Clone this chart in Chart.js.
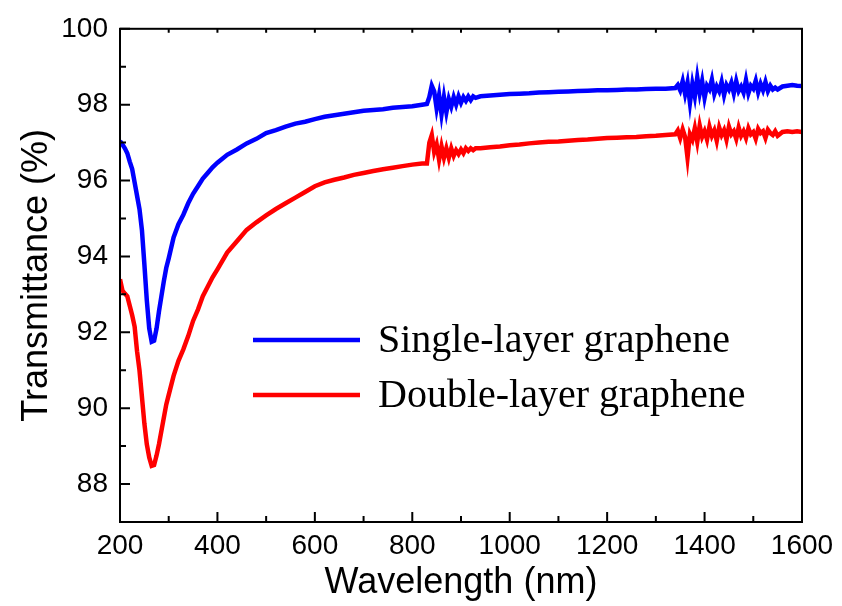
<!DOCTYPE html>
<html>
<head>
<meta charset="utf-8">
<script src="https://cdn.jsdelivr.net/npm/chart.js@4.4.0/dist/chart.umd.min.js"></script>
<style>
  html, body { margin: 0; padding: 0; background: #fff; }
</style>
</head>
<body>
<canvas id="transChart" width="842" height="606"></canvas>
<script>
// wavelength grid (nm)
var wavelength = [
  200, 205, 210, 215, 220, 225, 230, 235, 240, 245,
  250, 255, 260, 265, 270, 275, 280, 285, 290, 295,
  300, 310, 320, 330, 340, 350, 360, 370, 380, 390,
  400, 420, 440, 460, 480, 500, 520, 540, 560, 580,
  600, 620, 640, 660, 680, 700, 720, 740, 760, 780,
  800, 820, 830, 835, 840, 845, 850, 855, 860, 865,
  870, 875, 880, 885, 890, 895, 900, 905, 910, 915,
  920, 925, 930, 940, 960, 980, 1000, 1020, 1040, 1060,
  1080, 1100, 1120, 1140, 1160, 1180, 1200, 1220, 1240, 1260,
  1280, 1300, 1320, 1340, 1345, 1350, 1355, 1360, 1365, 1370,
  1375, 1380, 1385, 1390, 1395, 1400, 1405, 1410, 1415, 1420,
  1425, 1430, 1435, 1440, 1445, 1450, 1455, 1460, 1465, 1470,
  1475, 1480, 1485, 1490, 1495, 1500, 1505, 1510, 1515, 1520,
  1525, 1530, 1535, 1540, 1545, 1550, 1560, 1570, 1580, 1590,
  1600
];

// single-layer graphene transmittance (%)
var singleLayer = [
  97.04, 96.95, 96.85, 96.72, 96.50, 96.30, 95.95, 95.60, 95.25, 94.70,
  93.80, 92.85, 92.10, 91.75, 91.78, 92.10, 92.55, 92.95, 93.35, 93.70,
  93.95, 94.50, 94.85, 95.10, 95.40, 95.65, 95.85, 96.05, 96.20, 96.35,
  96.47, 96.68, 96.82, 96.98, 97.10, 97.25, 97.33, 97.42, 97.50, 97.55,
  97.62, 97.68, 97.72, 97.76, 97.80, 97.84, 97.86, 97.88, 97.92, 97.94,
  97.96, 98.00, 98.02, 98.20, 98.50, 98.35, 97.90, 98.25, 97.75, 98.20,
  97.80, 98.15, 97.95, 98.20, 98.00, 98.22, 98.05, 98.20, 98.10, 98.22,
  98.12, 98.22, 98.18, 98.22, 98.24, 98.26, 98.28, 98.29, 98.30, 98.32,
  98.33, 98.34, 98.35, 98.36, 98.37, 98.38, 98.38, 98.39, 98.40, 98.40,
  98.41, 98.42, 98.42, 98.44, 98.52, 98.38, 98.62, 98.28, 98.58, 98.05,
  98.55, 98.22, 98.72, 98.30, 98.62, 98.18, 98.50, 98.40, 98.66, 98.28,
  98.48, 98.35, 98.60, 98.25, 98.52, 98.40, 98.58, 98.30, 98.62, 98.36,
  98.48, 98.32, 98.65, 98.30, 98.50, 98.42, 98.63, 98.33, 98.55, 98.38,
  98.60, 98.36, 98.50, 98.40, 98.45, 98.40, 98.48, 98.50, 98.52, 98.50,
  98.49
];

// double-layer graphene transmittance (%)
var doubleLayer = [
  93.40, 93.10, 93.02, 92.95, 92.70, 92.45, 92.15, 91.50, 91.00, 90.30,
  89.60, 89.05, 88.70, 88.48, 88.50, 88.75, 89.05, 89.40, 89.75, 90.10,
  90.35, 90.85, 91.25, 91.55, 91.90, 92.30, 92.60, 92.95, 93.20, 93.45,
  93.66, 94.10, 94.40, 94.70, 94.90, 95.08, 95.25, 95.40, 95.55, 95.70,
  95.85, 95.95, 96.02, 96.08, 96.15, 96.20, 96.25, 96.30, 96.34, 96.38,
  96.42, 96.45, 96.45, 97.00, 97.20, 96.75, 96.95, 96.55, 96.90, 96.60,
  96.85, 96.60, 96.85, 96.65, 96.80, 96.70, 96.82, 96.72, 96.85, 96.78,
  96.85, 96.80, 96.85, 96.85, 96.88, 96.90, 96.93, 96.95, 96.98, 97.00,
  97.02, 97.03, 97.05, 97.07, 97.08, 97.10, 97.12, 97.13, 97.14, 97.15,
  97.17, 97.18, 97.20, 97.22, 97.32, 97.12, 97.35, 97.15, 96.60, 97.22,
  97.08, 97.38, 97.02, 97.45, 97.15, 97.30, 97.08, 97.42, 97.18, 97.32,
  97.05, 97.40, 97.20, 97.33, 97.08, 97.42, 97.22, 97.30, 97.10, 97.40,
  97.18, 97.30, 97.12, 97.38, 97.22, 97.28, 97.10, 97.36, 97.25, 97.30,
  97.12, 97.34, 97.25, 97.20, 97.30, 97.18, 97.28, 97.30, 97.28, 97.30,
  97.28
];

var xTicks = [200, 400, 600, 800, 1000, 1200, 1400, 1600];
var xMinor = [300, 500, 700, 900, 1100, 1300, 1500];
var yTicks = [88, 90, 92, 94, 96, 98, 100];
var yMinor = [87, 89, 91, 93, 95, 97, 99];

function toPoints(ys) {
  return wavelength.map(function (w, i) { return {x: w, y: ys[i]}; });
}

// frame with inward ticks (left + bottom major/minor, short ones on top)
var framePlugin = {
  id: 'frame',
  afterDraw: function (chart) {
    var ctx = chart.ctx, a = chart.chartArea;
    var xs = chart.scales.x, ys = chart.scales.y;
    ctx.save();
    ctx.strokeStyle = '#000';
    ctx.lineWidth = 2;
    ctx.strokeRect(a.left, a.top, a.right - a.left, a.bottom - a.top);
    ctx.beginPath();
    xTicks.forEach(function (v) {
      var px = xs.getPixelForValue(v);
      ctx.moveTo(px, a.bottom); ctx.lineTo(px, a.bottom - 10);
      ctx.moveTo(px, a.top); ctx.lineTo(px, a.top + 4);
    });
    xMinor.forEach(function (v) {
      var px = xs.getPixelForValue(v);
      ctx.moveTo(px, a.bottom); ctx.lineTo(px, a.bottom - 6);
      ctx.moveTo(px, a.top); ctx.lineTo(px, a.top + 4);
    });
    yTicks.forEach(function (v) {
      var py = ys.getPixelForValue(v);
      ctx.moveTo(a.left, py); ctx.lineTo(a.left + 10, py);
    });
    yMinor.forEach(function (v) {
      var py = ys.getPixelForValue(v);
      ctx.moveTo(a.left, py); ctx.lineTo(a.left + 6, py);
    });
    ctx.stroke();

    // legend inside the plot
    ctx.font = '40px "Liberation Serif", "Times New Roman", serif';
    ctx.textBaseline = 'alphabetic';
    ctx.fillStyle = '#000';
    chart.data.datasets.forEach(function (ds, i) {
      var ly = 340 + i * 55;
      ctx.strokeStyle = ds.borderColor;
      ctx.lineWidth = 4.5;
      ctx.beginPath();
      ctx.moveTo(253, ly); ctx.lineTo(360, ly);
      ctx.stroke();
      ctx.fillText(ds.label, 378, ly + 12);
    });
    ctx.restore();
  }
};

var tickFont = {family: '"Liberation Sans", Arial, sans-serif', size: 28};
var titleFont = {family: '"Liberation Sans", Arial, sans-serif', size: 36};

new Chart(document.getElementById('transChart').getContext('2d'), {
  type: 'line',
  data: {
    datasets: [
      {label: 'Single-layer graphene', data: toPoints(singleLayer),
       borderColor: '#0000ff', borderWidth: 4.5, pointRadius: 0, tension: 0},
      {label: 'Double-layer graphene', data: toPoints(doubleLayer),
       borderColor: '#ff0000', borderWidth: 4.5, pointRadius: 0, tension: 0}
    ]
  },
  options: {
    responsive: false,
    animation: false,
    devicePixelRatio: 1,
    layout: {padding: {top: 22, right: 40, left: 0, bottom: 0}},
    plugins: {legend: {display: false}, tooltip: {enabled: false}},
    scales: {
      x: {
        type: 'linear', min: 200, max: 1600,
        afterBuildTicks: function (s) { s.ticks = xTicks.map(function (v) { return {value: v}; }); },
        afterFit: function (s) { s.height = 84; },
        grid: {display: false, drawTicks: false},
        border: {display: false},
        ticks: {font: tickFont, color: '#000', padding: 7, maxRotation: 0, autoSkip: false,
                callback: function (v) { return String(v); }},
        title: {display: true, text: 'Wavelength (nm)', font: titleFont, color: '#000', padding: {top: 0, bottom: 1}}
      },
      y: {
        type: 'linear', min: 87, max: 100,
        afterBuildTicks: function (s) { s.ticks = yTicks.map(function (v) { return {value: v}; }); },
        afterFit: function (s) { s.width = 120; },
        grid: {display: false, drawTicks: false},
        border: {display: false},
        ticks: {font: tickFont, color: '#000', padding: 12,
                callback: function (v) { return String(v); }},
        title: {display: true, text: 'Transmittance (%)', font: titleFont, color: '#000', padding: {top: 15, bottom: 0}}
      }
    }
  },
  plugins: [framePlugin]
});
</script>
</body>
</html>
